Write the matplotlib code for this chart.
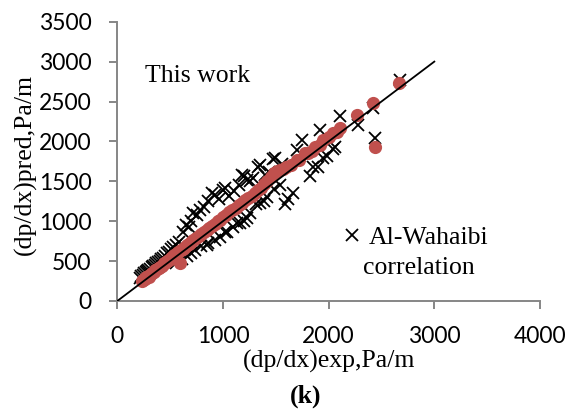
import matplotlib
matplotlib.use("Agg")
import matplotlib.pyplot as plt
from matplotlib.lines import Line2D

# This work (red circles)
work_x = [230, 245, 255, 265, 275, 290, 300, 315, 330, 345, 360, 375, 390, 405,
          420, 440, 455, 470, 490, 505, 520, 540, 560, 575, 593, 600, 620, 640,
          660, 680, 700, 720, 745, 770, 795, 820, 845, 870, 895, 920, 950, 975,
          1000, 1030, 1060, 1090, 1120, 1150, 1180, 1210, 1240, 1270, 1300, 1330,
          1360, 1390, 1420, 1450, 1480, 1510, 1540, 1570, 1600, 1640, 1697, 1720,
          1776, 1800, 1840, 1871, 1920, 1949, 2000, 2044, 2080, 2107, 2265, 2423,
          2439, 2666]
work_y = [250, 265, 280, 270, 300, 310, 305, 335, 350, 360, 385, 395, 410, 430,
          440, 470, 480, 500, 515, 540, 550, 575, 590, 610, 480, 640, 655, 680,
          700, 720, 745, 760, 790, 815, 840, 865, 890, 920, 945, 970, 1000, 1020,
          1050, 1080, 1110, 1140, 1170, 1200, 1230, 1260, 1290, 1320, 1350, 1385,
          1420, 1460, 1500, 1560, 1600, 1630, 1640, 1650, 1680, 1700, 1769, 1770,
          1853, 1850, 1880, 1936, 1960, 2020, 2050, 2104, 2120, 2167, 2334, 2480,
          1928, 2731]

# Al-Wahaibi correlation (black crosses)
wah_x = [215, 228, 240, 255, 268, 280, 295, 310, 325, 340, 355, 370, 385, 400,
         415, 430, 450, 470, 490, 510, 530, 555, 580, 620, 650, 675, 700, 720,
         750, 783, 820, 860, 893, 924, 960, 1003, 1019, 1056, 1100, 1150, 1177,
         1199, 1224, 1260, 1287, 1334, 1350, 1398, 1440, 1471, 1492, 1560, 1697,
         1745, 1918, 2107, 2423, 2675,
         560, 610, 660, 700, 735, 790, 846, 861,
         924, 970, 1019, 1035, 1098, 1130, 1161, 1199, 1224, 1260, 1316, 1350,
         1385, 1420, 1480, 1540, 1587, 1620, 1666, 1823, 1855, 1902, 1943, 1981,
         2044, 2060, 2281, 2439]
wah_y = [290, 315, 330, 345, 360, 375, 390, 405, 425, 440, 455, 475, 485, 505,
         520, 540, 570, 600, 620, 650, 680, 700, 740, 860, 950, 930, 1000, 1100,
         1080, 1142, 1180, 1250, 1351, 1330, 1280, 1393, 1414, 1320, 1380, 1450,
         1581, 1568, 1518, 1500, 1540, 1685, 1706, 1581, 1620, 1781, 1790, 1720,
         1894, 2020, 2145, 2313, 2418, 2770,
         470, 520, 570, 600, 640, 690, 703, 724,
         765, 800, 870, 870, 932, 975, 975, 1000, 1038, 1100, 1215, 1226,
         1257, 1300, 1400, 1450, 1217, 1280, 1351, 1568, 1685, 1685, 1790, 1811,
         1903, 1936, 2208, 2041]

line_x = [0, 3000]
line_y = [0, 3000]

grey = '#868686'
serif = 'Liberation Serif'
fs = 18.5

fig = plt.figure(figsize=(5.73, 4.09), dpi=100)
ax = fig.add_axes([0.2047, 0.2641, 0.7377, 0.6828])

ax.plot(wah_x, wah_y, linestyle='none', marker='x', color='black',
        markersize=8.5, markeredgewidth=1.3, zorder=2)
ax.plot(work_x, work_y, linestyle='none', marker='o', color='#C0504D',
        markersize=9.5, markeredgewidth=0, zorder=3)
ax.plot(line_x, line_y, color='black', linewidth=1.3, zorder=4)

ax.set_xlim(0, 4000)
ax.set_ylim(0, 3500)
ax.set_xticks([0, 1000, 2000, 3000, 4000])
ax.set_yticks([0, 500, 1000, 1500, 2000, 2500, 3000, 3500])

for s in ['top', 'right']:
    ax.spines[s].set_visible(False)
for s in ['left', 'bottom']:
    ax.spines[s].set_color(grey)
    ax.spines[s].set_linewidth(1.4)

ax.tick_params(direction='out', length=6, width=1.4, color=grey,
               labelsize=16.5, labelcolor='black')
ax.tick_params(axis='x', pad=12)
ax.tick_params(axis='y', pad=12.5)
for lab in ax.get_xticklabels() + ax.get_yticklabels():
    lab.set_fontfamily('Lato')

ax.set_xlabel('(dp/dx)exp,Pa/m', fontsize=fs, family=serif)
ax.xaxis.set_label_coords(0.5, -0.215)
ax.xaxis.label.set_va('center')
ax.set_ylabel('(dp/dx)pred,Pa/m', fontsize=fs, family=serif)
ax.yaxis.set_label_coords(-0.218, 0.487)
ax.yaxis.label.set_va('center')

ax.text(0.066, 0.806, 'This work', transform=ax.transAxes, fontsize=fs,
        family=serif, va='center', ha='left')

handle = Line2D([], [], linestyle='none', marker='x', color='black',
                markersize=8.5, markeredgewidth=1.3)
ax.legend([handle], ['Al-Wahaibi'], loc='center left',
          bbox_to_anchor=(0.537, 0.229), frameon=False, borderpad=0,
          borderaxespad=0, handlelength=0.6, handletextpad=0.35,
          prop={'family': serif, 'size': fs})
ax.text(0.581, 0.118, 'correlation', transform=ax.transAxes, fontsize=fs,
        family=serif, va='center', ha='left')

fig.text(306 / 573, 1 - 396 / 409, '(k)', fontsize=fs, family=serif,
         fontweight='bold', ha='center', va='center')

fig.savefig('out.png', dpi=100)
